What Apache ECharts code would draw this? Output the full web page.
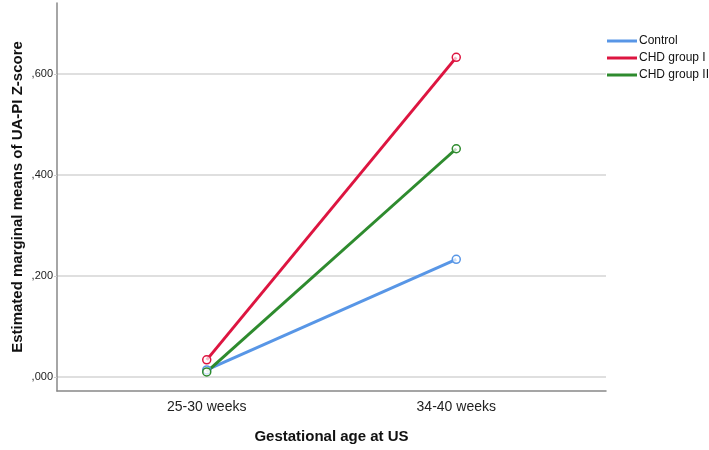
<!DOCTYPE html>
<html>
<head>
<meta charset="utf-8">
<script src="https://cdn.jsdelivr.net/npm/echarts@6/dist/echarts.min.js"></script>
<style>
  html, body { margin: 0; padding: 0; background: #fff; }
  #main { width: 709px; height: 450px; }
</style>
</head>
<body>
<div id="main"></div>
<script>
// categories on the x axis (placed at 0 and 1 on a value axis)
const categories = ["25-30 weeks", "34-40 weeks"];
const seriesNames = ["Control", "CHD group I", "CHD group II"];
const controlValues = [0.014, 0.233];
const chd1Values = [0.034, 0.633];
const chd2Values = [0.010, 0.452];
const yTicks = [0, 0.2, 0.4, 0.6];
const colors = ["#5896E6", "#DD1540", "#2E8B2E"];

const chart = echarts.init(document.getElementById("main"));

function toPoints(vals) {
  return vals.map((v, i) => [i, v]);
}

function makeSeries(name, vals, color) {
  return {
    name: name,
    type: "line",
    data: toPoints(vals),
    symbol: "circle",
    symbolSize: 8,
    lineStyle: { color: color, width: 3 },
    itemStyle: { color: "rgba(255,255,255,0.7)", borderColor: color, borderWidth: 1.5 },
    emphasis: { disabled: true },
    z: 3,
  };
}

chart.setOption({
  animation: false,
  grid: { left: 57, right: 103, top: 3, bottom: 59, containLabel: false, outerBoundsMode: "none" },
  legend: {
    orient: "vertical",
    left: 607,
    top: 34,
    padding: 0,
    itemWidth: 30,
    itemHeight: 3,
    itemGap: 3,
    icon: "rect",
    data: seriesNames.map((n, i) => ({ name: n, itemStyle: { color: colors[i], borderWidth: 0 } })),
    textStyle: { fontFamily: "Liberation Sans, Arial", fontSize: 12, lineHeight: 14, color: "#111", padding: [0, 0, 0, -3] },
  },
  xAxis: {
    type: "value",
    min: -0.6,
    max: 1.6,
    name: "Gestational age at US",
    nameLocation: "middle",
    nameGap: 38,
    nameMoveOverlap: false,
    nameTextStyle: { fontFamily: "Liberation Sans, Arial", fontSize: 15, fontWeight: "bold", color: "#111" },
    axisLine: { show: true, onZero: false, lineStyle: { color: "#888", width: 1.5 } },
    axisTick: { show: false, customValues: [0, 1] },
    splitLine: { show: false },
    axisLabel: {
      customValues: [0, 1],
      formatter: (v) => categories[Math.round(v)] || "",
      margin: 9,
      fontFamily: "Liberation Sans, Arial",
      fontSize: 14,
      color: "#222",
    },
  },
  yAxis: {
    type: "value",
    min: -0.0277,
    max: 0.7406,
    name: "Estimated marginal means of UA-PI Z-score",
    nameLocation: "middle",
    nameGap: 32,
    nameMoveOverlap: false,
    nameTextStyle: { fontFamily: "Liberation Sans, Arial", fontSize: 15, fontWeight: "bold", color: "#111" },
    axisLine: { show: true, onZero: false, lineStyle: { color: "#888", width: 1.5 } },
    axisTick: { show: true, length: 3, customValues: yTicks, lineStyle: { color: "#ccc" } },
    splitLine: { show: true, lineStyle: { color: "#d4d4d4", width: 1.5 } },
    axisLabel: {
      customValues: yTicks,
      formatter: (v) => v.toFixed(3).replace("0.", ","),
      margin: 4,
      fontFamily: "Liberation Sans, Arial",
      fontSize: 11,
      color: "#222",
    },
  },
  series: [
    makeSeries(seriesNames[0], controlValues, colors[0]),
    makeSeries(seriesNames[1], chd1Values, colors[1]),
    makeSeries(seriesNames[2], chd2Values, colors[2]),
  ],
});
</script>
</body>
</html>
